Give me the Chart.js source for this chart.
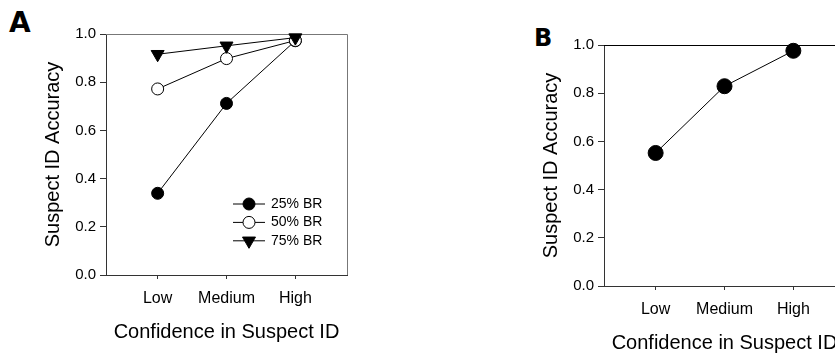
<!DOCTYPE html>
<html>
<head>
<meta charset="utf-8">
<script src="https://cdn.jsdelivr.net/npm/chart.js@4.4.1/dist/chart.umd.min.js"></script>
<style>
    html, body { margin: 0; padding: 0; background: #fff; overflow: hidden; width: 835px; height: 356px; }
    .panel { position: absolute; }
    .tag { position: absolute; font-family: "DejaVu Sans", sans-serif; font-weight: bold; color: #000; line-height: 1; }
</style>
</head>
<body>
<div class="tag" style="left:9px; top:9px; font-size:28px;">A</div>
<div class="tag" style="left:534px; top:26px; font-size:24px;">B</div>
<div class="panel" style="left:0; top:0;"><canvas id="chartA" width="420" height="356"></canvas></div>
<div class="panel" style="left:498px; top:11px;"><canvas id="chartB" width="420" height="356"></canvas></div>

<script>
/** --------------------DATA-------------------- */

const categories = ['Low', 'Medium', 'High'];
const yTicks = [0, 0.2, 0.4, 0.6, 0.8, 1.0];
const seriesLabels = ['25% BR', '50% BR', '75% BR'];

// panel A: accuracy by base rate
const br25 = [0.339, 0.712, 0.972];
const br50 = [0.772, 0.898, 0.973];
const br75 = [0.916, 0.951, 0.985];

// panel B: overall
const overall = [0.552, 0.829, 0.976];

const FONT = '"Liberation Sans", Arial, sans-serif';

/** --------------------PLUGINS-------------------- */

// top + right edge of the plot box
const framePlugin = {
    id: 'frame',
    beforeDatasetsDraw(chart, args, opts) {
        const ctx = chart.ctx;
        const a = chart.chartArea;
        ctx.save();
        ctx.strokeStyle = opts.color;
        ctx.lineWidth = 1;
        ctx.beginPath();
        ctx.moveTo(a.left, a.top + 0.5);
        ctx.lineTo(a.right + 0.5, a.top + 0.5);
        ctx.lineTo(a.right + 0.5, a.bottom);
        ctx.stroke();
        ctx.restore();
    }
};

// legend drawn inside the plot, line through marker
const insideLegend = {
    id: 'insideLegend',
    afterDatasetsDraw(chart, args, opts) {
        if (!opts.display) return;
        const ctx = chart.ctx;
        const a = chart.chartArea;
        ctx.save();
        opts.order.forEach((dsIndex, row) => {
            const ds = chart.data.datasets[dsIndex];
            const x0 = a.left + opts.left;
            const y = a.top + opts.top + row * opts.rowGap;
            ctx.strokeStyle = ds.borderColor;
            ctx.lineWidth = 1;
            ctx.beginPath();
            ctx.moveTo(x0, y);
            ctx.lineTo(x0 + opts.lineLen, y);
            ctx.stroke();

            ctx.fillStyle = ds.pointBackgroundColor;
            ctx.strokeStyle = ds.pointBorderColor;
            ctx.lineWidth = ds.pointBorderWidth;
            Chart.helpers.drawPoint(ctx, {
                pointStyle: ds.pointStyle,
                rotation: ds.pointRotation || 0,
                radius: ds.pointRadius,
                borderWidth: ds.pointBorderWidth
            }, x0 + opts.lineLen / 2, y);

            ctx.fillStyle = '#000';
            ctx.font = `${opts.fontSize}px ${FONT}`;
            ctx.textAlign = 'left';
            ctx.textBaseline = 'middle';
            ctx.fillText(ds.label, x0 + opts.lineLen + opts.gap, y);
        });
        ctx.restore();
    }
};

/** --------------------CHARTS-------------------- */

function toPoints(values) {
    return values.map((v, i) => ({x: i, y: v}));
}

function makeSeries(label, values, style) {
    return Object.assign({
        label: label,
        data: toPoints(values),
        borderColor: '#000',
        borderWidth: 1,
        pointBorderColor: '#000',
        pointBorderWidth: 1,
        pointHoverRadius: 0,
        tension: 0,
        clip: false
    }, style);
}

function buildChart(canvasId, datasets, frameColor, legendOpts) {
    const ctx = document.getElementById(canvasId).getContext('2d');
    return new Chart(ctx, {
        type: 'line',
        data: {datasets: datasets},
        plugins: [framePlugin, insideLegend],
        options: {
            responsive: false,
            animation: false,
            devicePixelRatio: 1,
            layout: {padding: {top: 34, right: 73, left: 0, bottom: 0}},
            plugins: {
                legend: {display: false},
                tooltip: {enabled: false},
                frame: {color: frameColor},
                insideLegend: legendOpts
            },
            scales: {
                x: {
                    type: 'linear',
                    min: -0.75,
                    max: 2.75,
                    afterBuildTicks: s => { s.ticks = categories.map((c, i) => ({value: i})); },
                    afterFit: s => { s.height = 81; },
                    ticks: {
                        color: '#000',
                        font: {family: FONT, size: 16},
                        padding: 10,
                        maxRotation: 0,
                        callback: v => categories[v]
                    },
                    grid: {display: true, drawOnChartArea: false, drawTicks: true, tickLength: 4, color: '#333'},
                    border: {display: true, color: '#333', width: 1},
                    title: {
                        display: true,
                        text: 'Confidence in Suspect ID',
                        color: '#000',
                        font: {family: FONT, size: 20},
                        padding: {top: 0, bottom: 12}
                    }
                },
                y: {
                    min: 0,
                    max: 1,
                    afterBuildTicks: s => { s.ticks = yTicks.map(v => ({value: v})); },
                    afterFit: s => { s.width = 106; },
                    ticks: {
                        color: '#000',
                        font: {family: FONT, size: 15},
                        padding: 4,
                        callback: v => Number(v).toFixed(1)
                    },
                    grid: {display: true, drawOnChartArea: false, drawTicks: true, tickLength: 6, color: '#333'},
                    border: {display: true, color: '#333', width: 1},
                    title: {
                        display: true,
                        text: 'Suspect ID Accuracy',
                        color: '#000',
                        font: {family: FONT, size: 20},
                        padding: {top: 41, bottom: 0}
                    }
                }
            }
        }
    });
}

const chartA = buildChart('chartA', [
    makeSeries(seriesLabels[0], br25, {pointStyle: 'circle', pointRadius: 6, pointBackgroundColor: '#000', order: 3}),
    makeSeries(seriesLabels[1], br50, {pointStyle: 'circle', pointRadius: 6, pointBackgroundColor: '#fff', order: 2}),
    makeSeries(seriesLabels[2], br75, {pointStyle: 'triangle', pointRotation: 180, pointRadius: 7.5, pointBackgroundColor: '#000', order: 1})
], '#777', {display: true, order: [0, 1, 2], left: 127, top: 170, rowGap: 18.4, lineLen: 32, gap: 6, fontSize: 14});

const chartB = buildChart('chartB', [
    makeSeries('Overall', overall, {pointStyle: 'circle', pointRadius: 7.5, pointBackgroundColor: '#000'})
], '#000', {display: false});
</script>
</body>
</html>
